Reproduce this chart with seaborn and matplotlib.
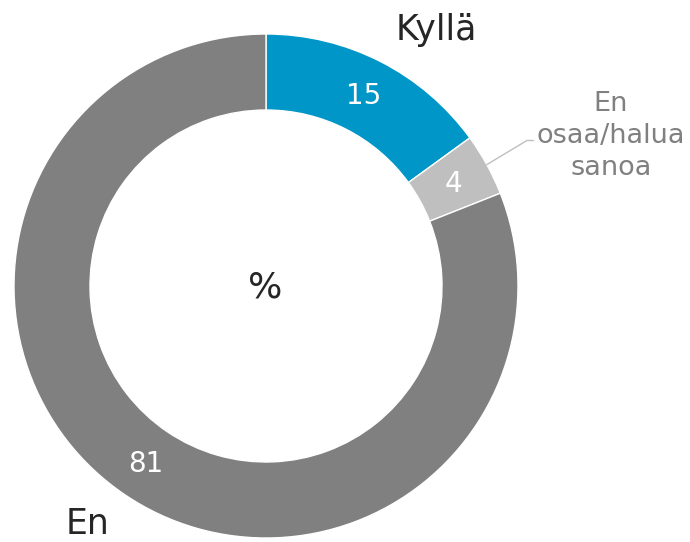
"""Donut chart: Kyllä / En osaa/halua sanoa / En (%)."""

import matplotlib
matplotlib.use("Agg")
import matplotlib.pyplot as plt
import numpy as np
import seaborn as sns

sns.set_style("white")
plt.rcParams["font.family"] = ["DejaVu Sans"]

# Data
categories = ["Kyllä", "En osaa/halua sanoa", "En"]
values = [15, 4, 81]
colors = ["#0096C8", "#BFBFBF", "#808080"]

# Layout in pixel units (y measured upward)
W, H = 690, 542
cx, cy = 266, H - 286
r_out, ring = 252, 76

fig = plt.figure(figsize=(W / 100, H / 100), dpi=100)
ax = fig.add_axes([0, 0, 1, 1])

wedges, _ = ax.pie(
    values, colors=colors, startangle=90, counterclock=False,
    radius=r_out, center=(cx, cy),
    wedgeprops=dict(width=ring, edgecolor="white", linewidth=1),
)
ax.set_xlim(0, W)
ax.set_ylim(0, H)
ax.set_aspect("auto")
ax.axis("off")

# Value labels in the middle of the ring
r_mid = r_out - ring / 2
for w, v in zip(wedges, values):
    ang = np.deg2rad((w.theta1 + w.theta2) / 2)
    ax.text(cx + r_mid * np.cos(ang), cy + r_mid * np.sin(ang) - 1, str(v),
            ha="center", va="center", color="white", fontsize=20)

# Category labels
ax.text(436, H - 30, categories[0], ha="center", va="center",
        color="#262626", fontsize=25)
ax.text(88, 1, categories[2], ha="center", va="bottom",
        color="#262626", fontsize=25)

w = wedges[1]
ang = np.deg2rad((w.theta1 + w.theta2) / 2)
ax.annotate(
    "En\nosaa/halua\nsanoa",
    xy=(cx + r_out * np.cos(ang), cy + r_out * np.sin(ang)),
    xytext=(611, H - 136), ha="center", va="center",
    color="#808080", fontsize=19.5, linespacing=1.3,
    arrowprops=dict(arrowstyle="-", color="#BFBFBF", lw=1,
                    shrinkA=0, shrinkB=0, relpos=(0, 0.45),
                    connectionstyle="angle,angleA=0,angleB=31,rad=0"),
)

ax.text(cx - 1, cy - 1, "%", ha="center", va="center", color="#262626", fontsize=26)

fig.savefig("out.png", dpi=100)
plt.close(fig)
